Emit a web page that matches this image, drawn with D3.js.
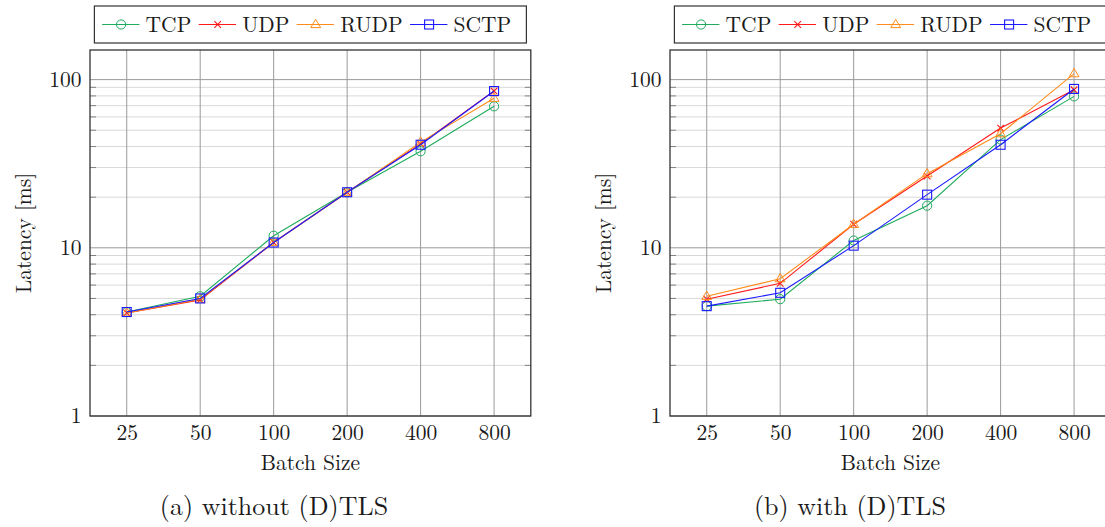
<!DOCTYPE html>
<html><head><meta charset="utf-8">
<script src="https://cdn.jsdelivr.net/npm/d3@7"></script>
<style>
body{margin:0;background:#fff}
svg{display:block}
</style>
</head><body><svg id="c" width="1105" height="527"></svg>
<script>
// ---- data ----
const batchSizes = ["25","50","100","200","400","800"];
const seriesNames = ["TCP","UDP","RUDP","SCTP"];
const seriesColors = ["#1fab5e","#ff1a1a","#ff8c1a","#1a1aff"];
const seriesMarkers = ["circle","cross","triangle","square"];

const tcpNoTls  = [4.15, 5.15, 11.8, 21.4, 37.5, 69.4];
const udpNoTls  = [4.10, 4.90, 10.75, 21.4, 41.5, 85.5];
const rudpNoTls = [4.10, 4.95, 10.8, 21.3, 42.5, 77.5];
const sctpNoTls = [4.15, 5.00, 10.75, 21.4, 41.0, 85.5];

const tcpTls  = [4.50, 4.95, 11.05, 17.8, 44.0, 79.5];
const udpTls  = [4.95, 6.15, 13.8, 26.7, 51.5, 87.0];
const rudpTls = [5.15, 6.55, 13.8, 27.6, 47.7, 108.5];
const sctpTls = [4.50, 5.40, 10.3, 20.7, 41.0, 88.0];

const yTickValues = [1, 10, 100];
const yTickLabels = ["1", "10", "100"];
const captions = ["(a) without (D)TLS", "(b) with (D)TLS"];
const xAxisTitle = "Batch Size";
const yAxisTitle = "Latency [ms]";

// ---- layout ----
const FONT = '"Latin Modern Roman","CMU Serif","Liberation Serif",serif';
const svg = d3.select("#c");
const FS = 21.5, CAP_FS = 26;
const plotW = 440.8, plotTop = 50, plotBottom = 416;
const panels = [
  {left: 90,  caption: captions[0], data: [tcpNoTls, udpNoTls, rudpNoTls, sctpNoTls], capX: 274},
  {left: 670, caption: captions[1], data: [tcpTls, udpTls, rudpTls, sctpTls], capX: 850}
];
// legend entry layout (relative to legend box left)
const legendLineStart = [7.7, 104.3, 202.3, 315.7];
const legendW = 432, legendH = 37;

function styleText(sel, size) {
  return sel.style("font-family", FONT).style("font-size", size + "px").style("fill", "#1a1a1a");
}

function drawMarker(g, type, cx, cy, color) {
  if (type === "circle") {
    g.append("circle").attr("cx", cx).attr("cy", cy).attr("r", 4.6)
      .attr("fill", "none").attr("stroke", color).attr("stroke-width", 1);
  } else if (type === "square") {
    g.append("rect").attr("x", cx - 4.5).attr("y", cy - 4.5).attr("width", 9).attr("height", 9)
      .attr("fill", "none").attr("stroke", color).attr("stroke-width", 1.1);
  } else if (type === "triangle") {
    const s = 5.2;
    g.append("path").attr("d", `M${cx},${cy - s}L${cx + s * 0.95},${cy + s * 0.6}L${cx - s * 0.95},${cy + s * 0.6}Z`)
      .attr("fill", "none").attr("stroke", color).attr("stroke-width", 1);
  } else {
    const s = 3.3;
    g.append("path").attr("d", `M${cx - s},${cy - s}L${cx + s},${cy + s}M${cx - s},${cy + s}L${cx + s},${cy - s}`)
      .attr("fill", "none").attr("stroke", color).attr("stroke-width", 1.1);
  }
}

panels.forEach(p => {
  const g = svg.append("g");
  const x = d3.scalePoint().domain(batchSizes).range([p.left, p.left + plotW]).padding(0.5);
  const y = d3.scaleLog().domain([1, 150]).range([plotBottom, plotTop]);

  // minor grid
  const minor = [];
  yTickValues.forEach(d => { for (let k = 2; k <= 9; k++) if (d * k <= 150) minor.push(d * k); });
  g.selectAll(".mg").data(minor).enter().append("line")
    .attr("x1", p.left).attr("x2", p.left + plotW)
    .attr("y1", d => y(d)).attr("y2", d => y(d))
    .attr("stroke", "#d9d9d9").attr("stroke-width", 1);
  // minor ticks on frame
  g.selectAll(".mtl").data(minor).enter().append("line")
    .attr("x1", p.left).attr("x2", p.left + 6)
    .attr("y1", d => y(d)).attr("y2", d => y(d))
    .attr("stroke", "#777").attr("stroke-width", 0.9);
  g.selectAll(".mtr").data(minor).enter().append("line")
    .attr("x1", p.left + plotW - 6).attr("x2", p.left + plotW)
    .attr("y1", d => y(d)).attr("y2", d => y(d))
    .attr("stroke", "#777").attr("stroke-width", 0.9);
  // major grid
  g.selectAll(".Mgy").data(yTickValues).enter().append("line")
    .attr("x1", p.left).attr("x2", p.left + plotW)
    .attr("y1", d => y(d)).attr("y2", d => y(d))
    .attr("stroke", "#9a9a9a").attr("stroke-width", 1);
  g.selectAll(".Mgx").data(batchSizes).enter().append("line")
    .attr("x1", d => x(d)).attr("x2", d => x(d))
    .attr("y1", plotTop).attr("y2", plotBottom)
    .attr("stroke", "#9a9a9a").attr("stroke-width", 1);

  // axes via d3
  const yAxis = d3.axisLeft(y).tickValues(yTickValues).tickFormat((d, i) => yTickLabels[i]).tickSize(0).tickPadding(8.5);
  const ya = g.append("g").attr("transform", `translate(${p.left},0)`).call(yAxis);
  ya.select(".domain").remove();
  styleText(ya.selectAll("text"), FS);
  const xAxis = d3.axisBottom(x).tickSize(0).tickPadding(8);
  const xa = g.append("g").attr("transform", `translate(0,${plotBottom})`).call(xAxis);
  xa.select(".domain").remove();
  styleText(xa.selectAll("text"), FS).attr("dy", null).attr("y", 23.5);

  // series
  seriesNames.forEach((name, si) => {
    const vals = p.data[si];
    const line = d3.line().x((d, i) => x(batchSizes[i])).y(d => y(d));
    g.append("path").datum(vals).attr("d", line)
      .attr("fill", "none").attr("stroke", seriesColors[si]).attr("stroke-width", 1.1);
    vals.forEach((v, i) => drawMarker(g, seriesMarkers[si], x(batchSizes[i]), y(v), seriesColors[si]));
  });

  // frame
  g.append("rect").attr("x", p.left).attr("y", plotTop).attr("width", plotW).attr("height", plotBottom - plotTop)
    .attr("fill", "none").attr("stroke", "#333").attr("stroke-width", 1.3);

  // legend
  const cx = p.left + plotW / 2;
  const lx = cx - legendW / 2, ly = 6;
  const lg = svg.append("g");
  lg.append("rect").attr("x", lx).attr("y", ly).attr("width", legendW).attr("height", legendH)
    .attr("fill", "#fff").attr("stroke", "#333").attr("stroke-width", 1.2);
  seriesNames.forEach((name, si) => {
    const sx = lx + legendLineStart[si];
    const yy = ly + 18.5;
    lg.append("line").attr("x1", sx).attr("x2", sx + 37.3).attr("y1", yy).attr("y2", yy)
      .attr("stroke", seriesColors[si]).attr("stroke-width", 1.1);
    drawMarker(lg, seriesMarkers[si], sx + 19, yy, seriesColors[si]);
    styleText(lg.append("text").attr("x", sx + 43.5).attr("y", ly + 25.5), FS).text(name);
  });

  // titles
  styleText(svg.append("text").attr("x", cx).attr("y", 470).attr("text-anchor", "middle"), FS).text(xAxisTitle);
  styleText(svg.append("text").attr("transform", `translate(${p.left - 67},${(plotTop + plotBottom) / 2}) rotate(-90)`)
    .attr("text-anchor", "middle").attr("dy", "0.35em"), FS).text(yAxisTitle);
  styleText(svg.append("text").attr("x", p.capX).attr("y", 515).attr("text-anchor", "middle"), CAP_FS).text(p.caption);
});
</script>
</body></html>
